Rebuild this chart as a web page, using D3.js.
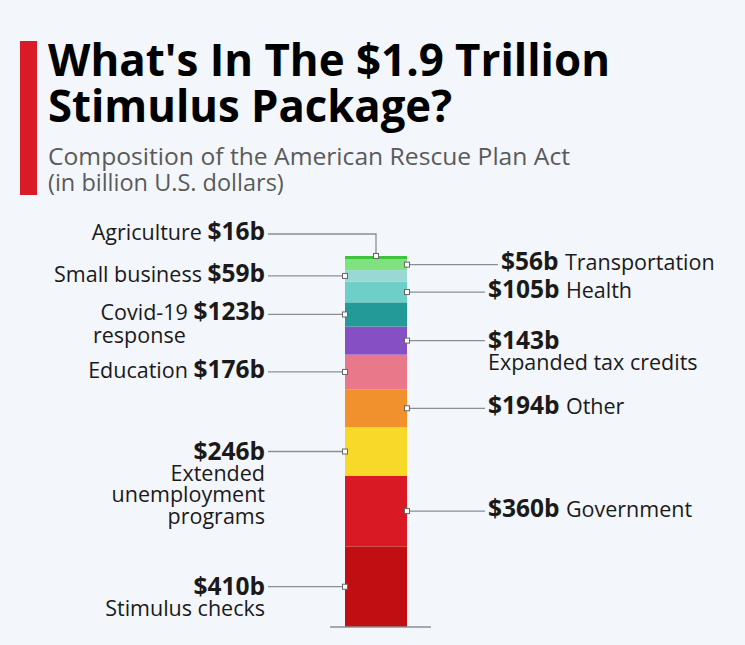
<!DOCTYPE html>
<html>
<head>
<meta charset="utf-8">
<script src="https://cdn.jsdelivr.net/npm/d3@7"></script>
<style>
  html, body { margin: 0; padding: 0; background: #f3f6fa; }
  svg { display: block; }
  text { font-family: "Open Sans", "Noto Sans", sans-serif; }
</style>
</head>
<body>
<svg id="canvas" width="745" height="645"></svg>
<script>
/** Stack order, bottom to top */
const categories = ['Stimulus checks', 'Government', 'Extended unemployment programs', 'Other', 'Education',
    'Expanded tax credits', 'Covid-19 response', 'Health', 'Small business', 'Transportation', 'Agriculture'];
const values = [410, 360, 246, 194, 176, 143, 123, 105, 59, 56, 16];
const colors = ['#c00e12', '#d91a24', '#f8d92a', '#f0912e', '#e8788a', '#874fc4', '#239a97', '#6dcfc7', '#9ad8d6', '#80e27e', '#3cc43a'];

let canvas = d3.select('#canvas');

/** Title block */
canvas.append('rect').attr('x', 20).attr('y', 41).attr('width', 17).attr('height', 154).attr('fill', '#d81b26');
canvas.append('text').attr('x', 48).attr('y', 76).attr('font-size', 44).attr('font-weight', 700)
    .attr('textLength', 562).attr('lengthAdjust', 'spacingAndGlyphs').attr('fill', '#000')
    .text("What's In The $1.9 Trillion");
canvas.append('text').attr('x', 48).attr('y', 122).attr('font-size', 44).attr('font-weight', 700)
    .attr('textLength', 404).attr('lengthAdjust', 'spacingAndGlyphs').attr('fill', '#000')
    .text('Stimulus Package?');
canvas.append('text').attr('x', 48).attr('y', 165).attr('font-size', 23.5).attr('fill', '#5a5a5a')
    .attr('textLength', 522).attr('lengthAdjust', 'spacingAndGlyphs')
    .text('Composition of the American Rescue Plan Act');
canvas.append('text').attr('x', 48).attr('y', 191).attr('font-size', 23.5).attr('fill', '#5a5a5a')
    .text('(in billion U.S. dollars)');

/** Stack data */
let stackData = [];
let acc = 0;
values.forEach((v, i) => {
    stackData.push({ name: categories[i], value: v, y0: acc, y1: acc + v, color: colors[i], index: i });
    acc += v;
});

let yScale = d3.scaleLinear().domain([0, acc]).range([627, 256]);
let xScale = d3.scaleBand().domain(['ARP']).range([345, 407]);

const barX = xScale('ARP');
const barW = xScale.bandwidth();

canvas.selectAll('rect.seg')
    .data(stackData)
    .enter()
    .append('rect')
    .attr('class', 'seg')
    .attr('x', barX)
    .attr('width', barW)
    .attr('y', (d) => yScale(d.y1))
    .attr('height', (d) => yScale(d.y0) - yScale(d.y1))
    .attr('fill', (d) => d.color);

/** Baseline */
canvas.append('line').attr('x1', 330).attr('x2', 431).attr('y1', yScale(0)).attr('y2', yScale(0))
    .attr('stroke', '#8a8f94').attr('stroke-width', 1.5);

/** Labels: even index on the left, odd on the right */
const nameSize = 21.5;
const valueSize = 24.5;
const ink = '#1a1a1a';

const labelLines = {
    'Stimulus checks': ['Stimulus checks'],
    'Extended unemployment programs': ['Extended', 'unemployment', 'programs'],
    'Expanded tax credits': ['Expanded tax credits']
};

let lineG = canvas.append('g');
let labelG = canvas.append('g');

stackData.forEach((d) => {
    let mid = yScale((d.y0 + d.y1) / 2);
    let valueText = '$' + d.value + 'b';
    let left = d.index % 2 === 0;

    if (d.name === 'Agriculture') {
        let top = yScale(d.y1);
        let cx = barX + barW / 2;
        lineG.append('path').attr('d', `M${cx},${top}V234H268`).attr('fill', 'none')
            .attr('stroke', '#8a8f94').attr('stroke-width', 1.3);
        lineG.append('rect').attr('x', cx - 2.5).attr('y', top - 2.5).attr('width', 5).attr('height', 5)
            .attr('fill', '#fff').attr('stroke', '#666').attr('stroke-width', 1);
        let t = labelG.append('text').attr('x', 265).attr('y', 234).attr('dy', '0.35em').attr('text-anchor', 'end').attr('fill', ink);
        t.append('tspan').attr('font-size', nameSize).text('Agriculture ');
        t.append('tspan').attr('font-size', valueSize).attr('font-weight', 700).text(valueText);
        return;
    }

    let mx = left ? barX : barX + barW;
    let lineEnd = left ? 268 : (d.name === 'Transportation' ? 498 : 485);
    lineG.append('line').attr('x1', mx).attr('x2', lineEnd).attr('y1', mid).attr('y2', mid)
        .attr('stroke', '#8a8f94').attr('stroke-width', 1.3);
    lineG.append('rect').attr('x', mx - 2.5).attr('y', mid - 2.5).attr('width', 5).attr('height', 5)
        .attr('fill', '#fff').attr('stroke', '#666').attr('stroke-width', 1);

    let tx = left ? 265 : lineEnd + 3;
    let anchor = left ? 'end' : 'start';

    if (labelLines[d.name]) {
        /** Value on top, name lines below (one text, tspans per line) */
        let t = labelG.append('text').attr('x', tx).attr('y', mid + 8).attr('text-anchor', anchor).attr('fill', ink);
        t.append('tspan').attr('x', tx).attr('font-size', valueSize).attr('font-weight', 700).text(valueText);
        labelLines[d.name].forEach((line, i) => {
            t.append('tspan').attr('x', tx).attr('dy', i === 0 ? 21 : 21.5)
                .attr('font-size', nameSize).text(line);
        });
    } else if (d.name === 'Covid-19 response') {
        let t = labelG.append('text').attr('x', tx).attr('y', mid).attr('dy', '0.35em').attr('text-anchor', 'end').attr('fill', ink);
        t.append('tspan').attr('font-size', nameSize).text('Covid-19 ');
        t.append('tspan').attr('font-size', valueSize).attr('font-weight', 700).text(valueText);
        labelG.append('text').attr('x', 93).attr('y', mid + 29).attr('font-size', nameSize).attr('fill', ink).text('response');
    } else if (left) {
        let t = labelG.append('text').attr('x', tx).attr('y', mid).attr('dy', '0.35em').attr('text-anchor', 'end').attr('fill', ink);
        t.append('tspan').attr('font-size', nameSize).text(d.name + ' ');
        t.append('tspan').attr('font-size', valueSize).attr('font-weight', 700).text(valueText);
    } else {
        let t = labelG.append('text').attr('x', tx).attr('y', mid).attr('dy', '0.35em').attr('fill', ink);
        t.append('tspan').attr('font-size', valueSize).attr('font-weight', 700).text(valueText + ' ');
        t.append('tspan').attr('font-size', nameSize).text(d.name);
    }
});
</script>
</body>
</html>
